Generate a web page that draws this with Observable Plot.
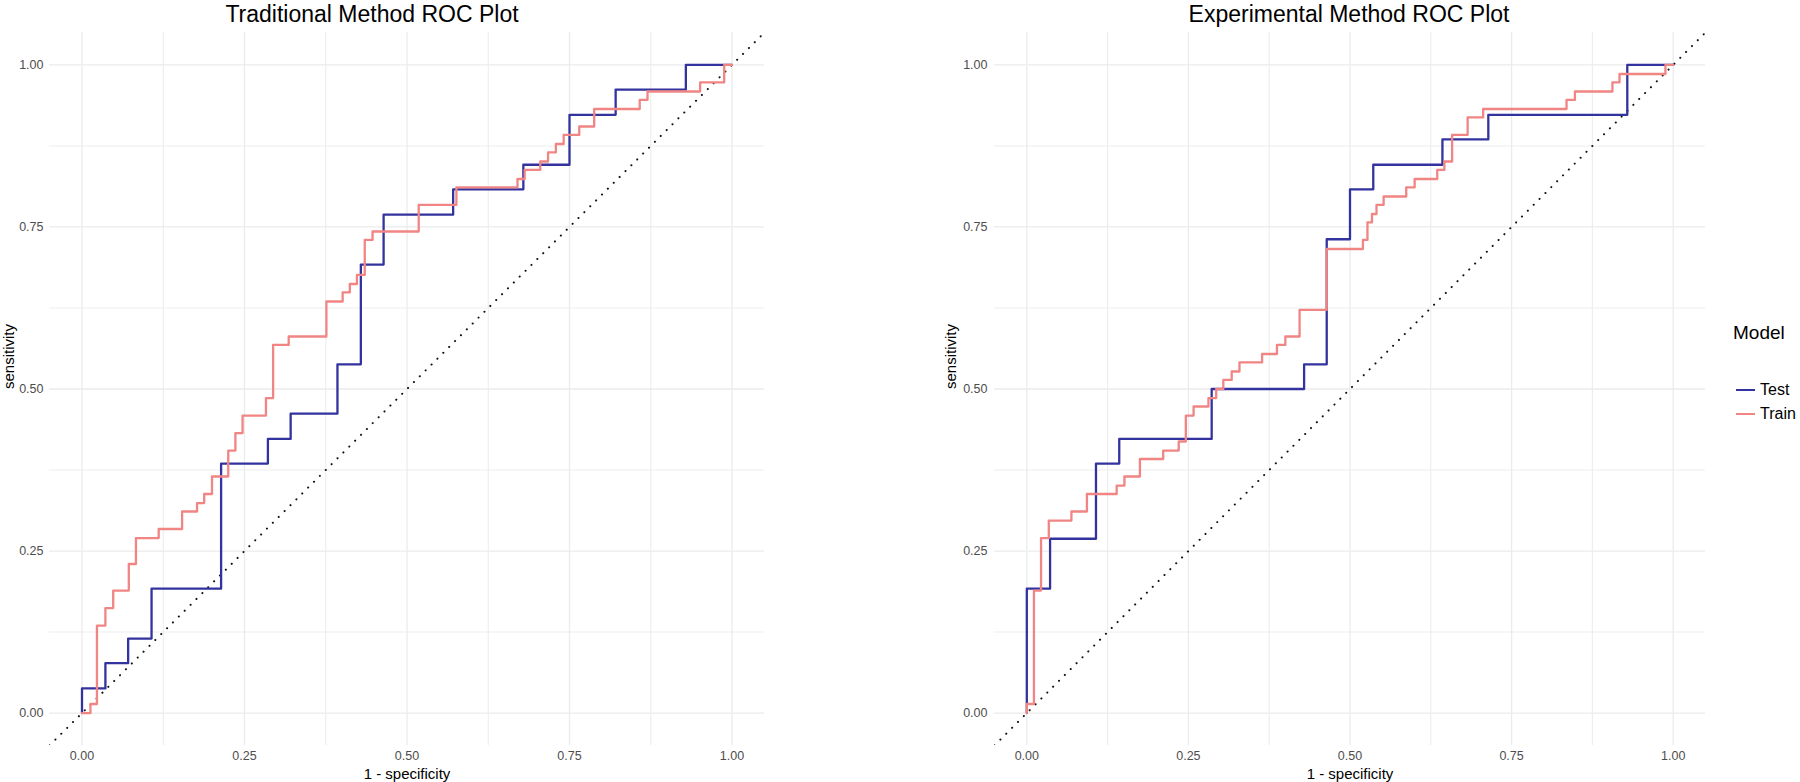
<!DOCTYPE html>
<html>
<head>
<meta charset="utf-8">
<script src="https://cdn.jsdelivr.net/npm/d3@7"></script>
<script src="https://cdn.jsdelivr.net/npm/@observablehq/plot@0.6"></script>
<style>
  body { margin: 0; background: #fff; }
  #root { position: relative; width: 1800px; height: 782px; overflow: hidden; background: #fff;
          font-family: "Liberation Sans", Arial, Helvetica, sans-serif; }
  .title { position: absolute; top: 1px; font-size: 23px; color: #000; white-space: nowrap; transform: translateX(-50%); }
  .panel { position: absolute; top: 26px; }
  .legend-title { position: absolute; left: 1733px; top: 321px; font-size: 19px; color: #000; line-height: 24px; }
  .legend-row { position: absolute; left: 1736px; display: flex; align-items: center; height: 22px; font-size: 16px; color: #000; }
  .legend-row .sw { width: 19px; height: 2.3px; margin-right: 5px; }
</style>
</head>
<body>
<div id="root"></div>
<script>
// ---- data ----
const models = ["Test", "Train"];
const modelColors = ["#33339f", "#f08584"];
const majorTicks = [0, 0.25, 0.5, 0.75, 1];
const minorTicks = [0.125, 0.375, 0.625, 0.875];
const axisDomain = [-0.05, 1.05];

const tradTestFpr = [0, 0, 0.036, 0.071, 0.107, 0.214, 0.286, 0.321, 0.393, 0.429, 0.464, 0.571, 0.679, 0.750, 0.821, 0.929, 1];
const tradTestTpr = [0, 0.038, 0.077, 0.115, 0.192, 0.385, 0.423, 0.462, 0.538, 0.692, 0.769, 0.808, 0.846, 0.923, 0.962, 1, 1];

const tradTrainFpr = [0, 0.013, 0.023, 0.036, 0.048, 0.072, 0.083, 0.118, 0.154, 0.177, 0.188, 0.200, 0.225, 0.236, 0.247, 0.283, 0.294, 0.318, 0.376, 0.401, 0.412, 0.423, 0.435, 0.447, 0.518, 0.576, 0.670, 0.681, 0.705, 0.717, 0.729, 0.741, 0.765, 0.788, 0.858, 0.870, 0.951, 0.988, 1];
const tradTrainTpr = [0, 0.014, 0.135, 0.162, 0.189, 0.230, 0.270, 0.284, 0.311, 0.324, 0.338, 0.365, 0.405, 0.432, 0.459, 0.486, 0.568, 0.581, 0.635, 0.649, 0.662, 0.676, 0.730, 0.743, 0.784, 0.811, 0.824, 0.838, 0.851, 0.865, 0.878, 0.892, 0.905, 0.932, 0.946, 0.959, 0.973, 1, 1];

const expTestFpr = [0, 0, 0.036, 0.107, 0.143, 0.286, 0.429, 0.464, 0.500, 0.536, 0.643, 0.714, 0.929, 1];
const expTestTpr = [0, 0.192, 0.269, 0.385, 0.423, 0.500, 0.538, 0.731, 0.808, 0.846, 0.885, 0.923, 1, 1];

const expTrainFpr = [0, 0, 0.011, 0.022, 0.034, 0.069, 0.093, 0.139, 0.151, 0.175, 0.211, 0.235, 0.246, 0.258, 0.281, 0.293, 0.304, 0.317, 0.329, 0.364, 0.387, 0.400, 0.422, 0.464, 0.520, 0.527, 0.534, 0.541, 0.552, 0.587, 0.600, 0.635, 0.646, 0.658, 0.682, 0.706, 0.835, 0.848, 0.906, 0.917, 0.988, 1];
const expTrainTpr = [0, 0.014, 0.189, 0.270, 0.297, 0.311, 0.338, 0.351, 0.365, 0.392, 0.405, 0.419, 0.459, 0.473, 0.486, 0.500, 0.514, 0.527, 0.541, 0.554, 0.568, 0.581, 0.622, 0.716, 0.730, 0.757, 0.770, 0.784, 0.797, 0.811, 0.824, 0.838, 0.851, 0.892, 0.919, 0.932, 0.946, 0.959, 0.973, 0.986, 1, 1];

const titles = ["Traditional Method ROC Plot", "Experimental Method ROC Plot"];
const xLabel = "1 - specificity";
const yLabel = "sensitivity";
const legendTitle = "Model";

// ---- build ----
const FONT = '"Liberation Sans", Arial, Helvetica, sans-serif';
function rows(fpr, tpr, model) {
  return fpr.map((x, i) => ({model, fpr: x, tpr: tpr[i]}));
}

function panel({test, train, width, marginLeft, marginRight, tickPad, yLabDx}) {
  const data = [...test, ...train];
  return Plot.plot({
    width, height: 756,
    marginLeft, marginRight, marginTop: 6, marginBottom: 37,
    style: {fontFamily: FONT, background: "transparent", overflow: "visible"},
    x: {domain: axisDomain},
    y: {domain: axisDomain},
    color: {domain: models, range: modelColors},
    marks: [
      Plot.ruleX(minorTicks, {stroke: "#ededed", strokeWidth: 1.1}),
      Plot.ruleY(minorTicks, {stroke: "#ededed", strokeWidth: 1.1}),
      Plot.ruleX(majorTicks, {stroke: "#ebebeb", strokeWidth: 1.3}),
      Plot.ruleY(majorTicks, {stroke: "#ebebeb", strokeWidth: 1.3}),
      Plot.axisX(majorTicks, {tickSize: 0, tickPadding: 6, tickFormat: d3.format(".2f"), fontSize: 12.5, fill: "#4d4d4d", label: null}),
      Plot.axisY(majorTicks, {tickSize: 0, tickPadding: tickPad, tickFormat: d3.format(".2f"), fontSize: 12.5, fill: "#4d4d4d", label: null}),
      Plot.text([xLabel], {text: d => d, frameAnchor: "bottom", dy: 29, lineAnchor: "middle", fontSize: 15, fill: "#000"}),
      Plot.text([yLabel], {text: d => d, frameAnchor: "left", dx: yLabDx, rotate: -90, lineAnchor: "middle", fontSize: 15, fill: "#000"}),
      Plot.line(axisDomain, {x: d => d, y: d => d, stroke: "#111", strokeWidth: 2, strokeDasharray: "0.1,8.2", strokeLinecap: "round", clip: true}),
      Plot.line(data, {x: "fpr", y: "tpr", z: "model", stroke: "model", curve: "step-after", strokeWidth: 2.3})
    ]
  });
}

const root = document.getElementById("root");

const left = panel({
  test: rows(tradTestFpr, tradTestTpr, "Test"),
  train: rows(tradTrainFpr, tradTrainTpr, "Train"),
  width: 780, marginLeft: 49, marginRight: 16, tickPad: 6, yLabDx: -40
});
left.classList.add("panel");
left.style.left = "0px";
root.appendChild(left);

const right = panel({
  test: rows(expTestFpr, expTestTpr, "Test"),
  train: rows(expTrainFpr, expTrainTpr, "Train"),
  width: 770, marginLeft: 54, marginRight: 5, tickPad: 7, yLabDx: -43
});
right.classList.add("panel");
right.style.left = "940px";
root.appendChild(right);

[[titles[0], 372], [titles[1], 1349]].forEach(([t, cx]) => {
  const d = document.createElement("div");
  d.className = "title";
  d.textContent = t;
  d.style.left = cx + "px";
  root.appendChild(d);
});

const lt = document.createElement("div");
lt.className = "legend-title";
lt.textContent = legendTitle;
root.appendChild(lt);
const rowCenters = [390, 414];
models.forEach((m, i) => {
  const r = document.createElement("div");
  r.className = "legend-row";
  r.style.top = (rowCenters[i] - 11) + "px";
  const sw = document.createElement("div");
  sw.className = "sw";
  sw.style.background = modelColors[i];
  const tx = document.createElement("span");
  tx.textContent = m;
  r.appendChild(sw); r.appendChild(tx);
  root.appendChild(r);
});
</script>
</body>
</html>
